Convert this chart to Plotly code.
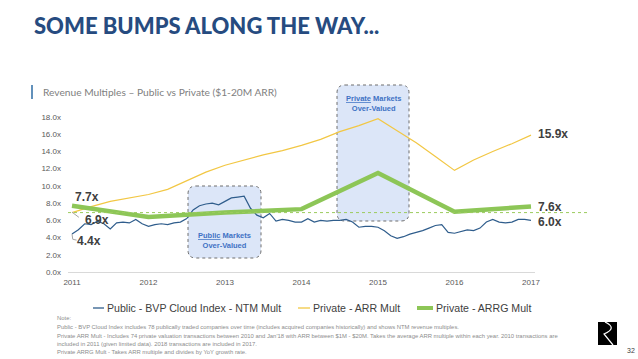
import plotly.graph_objects as go

# ---------------- data ----------------
years = [2011, 2012, 2013, 2014, 2015, 2016, 2017]
year_labels = ["2011", "2012", "2013", "2014", "2015", "2016", "2017"]

# Public - BVP Cloud Index - NTM Mult (monthly, Jan 2011 .. Jan 2017)
public_months = [i for i in range(73)]
public_vals = [4.4, 4.9, 5.6, 5.5, 5.9, 5.6, 5.0, 5.7, 5.8, 5.7, 6.1, 5.6,
               5.3, 5.5, 5.6, 5.5, 5.7, 5.8, 6.2, 7.2, 7.7, 7.9, 8.0, 7.8,
               8.2, 8.6, 8.7, 8.8, 7.4, 6.6, 6.3, 6.8, 5.9, 6.1, 6.0, 5.8,
               5.8, 6.2, 5.8, 6.0, 5.9, 6.0, 6.0, 6.1, 5.8, 5.2, 5.3, 5.3,
               5.2, 4.8, 4.2, 3.9, 4.1, 4.4, 4.6, 4.8, 5.1, 5.4, 5.5, 4.6,
               4.5, 4.7, 4.9, 4.8, 5.1, 5.8, 6.1, 5.8, 5.7, 5.8, 6.1, 6.1,
               6.0]

# Private - ARR Mult (quarterly)
arr_quarters = [i for i in range(25)]
arr_vals = [6.9, 7.6, 8.2, 8.6, 9.0, 9.6, 10.6, 11.6, 12.4, 13.0, 13.6, 14.1,
            14.7, 15.4, 16.3, 17.0, 17.8, 16.4, 15.0, 13.4, 11.8, 13.0, 14.0,
            14.9, 15.9]

# Private - ARRG Mult (annual)
arrg_vals = [7.7, 6.4, 6.9, 7.3, 11.5, 7.0, 7.6]

ref_level = 6.9  # dotted reference line

names = ["Public - BVP Cloud Index - NTM Mult", "Private - ARR Mult", "Private - ARRG Mult"]
colors = ["#2F5D8C", "#F2C744", "#8DC657"]

notes = [
    "Note:",
    "Public - BVP Cloud Index includes 78 publically traded companies over time (includes acquired companies historically) and shows NTM revenue multiples.",
    "Private ARR Mult - Includes 74 private valuation transactions between 2010 and Jan'18 with ARR between $1M - $20M. Takes the average ARR multiple within each year. 2010 transactions are",
    "included in 2011 (given limited data). 2018 transactions are included in 2017.",
    "Private ARRG Mult - Takes ARR multiple and divides by YoY growth rate.",
]

# ---------------- layout geometry (pixels) ----------------
W, H = 638, 359
L, R, T, B = 68, 103, 117, 87
PW, PH = W - L - R, H - T - B


def px(x):
    return (x - L) / PW


def py(y):
    return 1 - (y - T) / PH


pub_x = [years[0] + m / 12 for m in public_months]
arr_x = [years[0] + q / 4 for q in arr_quarters]

fig = go.Figure()
fig.add_trace(go.Scatter(x=pub_x, y=public_vals, mode="lines", name=names[0],
                         line=dict(color=colors[0], width=1.2), showlegend=False))
fig.add_trace(go.Scatter(x=arr_x, y=arr_vals, mode="lines", name=names[1],
                         line=dict(color=colors[1], width=1.2), showlegend=False))
fig.add_trace(go.Scatter(x=years, y=arrg_vals, mode="lines", name=names[2],
                         line=dict(color=colors[2], width=4.5), showlegend=False))

shapes = []
annotations = []


def rrect(x0, y0, x1, y1, r=8):
    # pixel coords -> paper path with rounded corners
    rx, ry = r / PW, r / PH
    X0, X1 = px(x0), px(x1)
    Y0, Y1 = py(y1), py(y0)  # Y0 bottom, Y1 top
    return (f"M {X0+rx},{Y1} L {X1-rx},{Y1} Q {X1},{Y1} {X1},{Y1-ry} "
            f"L {X1},{Y0+ry} Q {X1},{Y0} {X1-rx},{Y0} L {X0+rx},{Y0} "
            f"Q {X0},{Y0} {X0},{Y0+ry} L {X0},{Y1-ry} Q {X0},{Y1} {X0+rx},{Y1} Z")


box_style = dict(type="path", xref="paper", yref="paper", layer="below",
                 fillcolor="#DCE6F8", line=dict(color="#6F6F6F", width=1, dash="dot"))
shapes.append(dict(path=rrect(188, 186, 261, 258), **box_style))
shapes.append(dict(path=rrect(337, 85, 409, 221), **box_style))

# dotted reference line
shapes.append(dict(type="line", xref="paper", yref="paper", x0=0, x1=px(588),
                   y0=ref_level / 18, y1=ref_level / 18,
                   line=dict(color="#9CCB5E", width=1, dash="dot")))

# small connectors to left labels
shapes.append(dict(type="line", xref="x", yref="y", x0=years[0], y0=arr_vals[0] + 0.05,
                   x1=years[0] + 0.09, y1=arr_vals[0] - 0.55,
                   line=dict(color="#A6A6A6", width=1)))
shapes.append(dict(type="path", xref="x", yref="y",
                   path=f"M {years[0]},{public_vals[0]} L {years[0]+0.01},{public_vals[0]-0.6} L {years[0]+0.06},{public_vals[0]-0.7}",
                   line=dict(color="#A6A6A6", width=1)))

# box texts
box_font = dict(family="Liberation Sans, Arial", size=7.5, color="#3F72C4")
annotations.append(dict(xref="paper", yref="paper", x=px(224.5), y=py(240), showarrow=False,
                        text="<b><u>Public</u> Markets<br>Over-Valued</b>", font=box_font,
                        xanchor="center", yanchor="middle", align="center"))
annotations.append(dict(xref="paper", yref="paper", x=px(373), y=py(103), showarrow=False,
                        text="<b><u>Private</u> Markets<br>Over-Valued</b>", font=box_font,
                        xanchor="center", yanchor="middle", align="center"))

# value labels
lab_font = dict(family="Liberation Sans, Arial", size=12, color="#404040")


def vlabel(x, y, xs, ys):
    annotations.append(dict(x=x, y=y, xref="x", yref="y", text=f"<b>{y:.1f}x</b>",
                            showarrow=False, xanchor="left", yanchor="middle",
                            xshift=xs, yshift=ys, font=lab_font))


vlabel(years[0], arrg_vals[0], 1, 9)
vlabel(years[0], arr_vals[0], 11, -7)
vlabel(years[0], public_vals[0], 3, -7)
vlabel(years[-1], arr_vals[-1], 5, 1)
vlabel(years[-1], arrg_vals[-1], 5, 0)
vlabel(years[-1], public_vals[-1], 5, -2)

# title & subtitle
annotations.append(dict(xref="paper", yref="paper", x=px(32), y=py(25.5), showarrow=False,
                        xanchor="left", yanchor="middle",
                        text="SOME BUMPS ALONG THE WAY...",
                        font=dict(family="Lato", size=22, weight=900, color="#264B80")))
shapes.append(dict(type="line", xref="paper", yref="paper", x0=px(32), x1=px(32),
                   y0=py(99), y1=py(85), line=dict(color="#2E6DA4", width=1.5)))
annotations.append(dict(xref="paper", yref="paper", x=px(41), y=py(92), showarrow=False,
                        xanchor="left", yanchor="middle",
                        text="Revenue Multiples \u2013 Public vs Private ($1-20M ARR)",
                        font=dict(family="Lato", size=10.2, color="#808080")))

# custom legend
leg_y = py(308)
leg_items = [(93, 104, 105, 1.3), (298, 310, 311, 1.3), (417, 433, 434, 4)]
for (lx0, lx1, tx, lw), nm, c in zip(leg_items, names, colors):
    shapes.append(dict(type="line", xref="paper", yref="paper", x0=px(lx0), x1=px(lx1),
                       y0=leg_y, y1=leg_y, line=dict(color=c, width=lw)))
    annotations.append(dict(xref="paper", yref="paper", x=px(tx), y=leg_y, showarrow=False,
                            xanchor="left", yanchor="middle", text=nm,
                            font=dict(family="Liberation Sans, Arial", size=10.6, color="#404040")))

# notes
for txt, yy in zip(notes, [318, 327, 336, 344, 352]):
    annotations.append(dict(xref="paper", yref="paper", x=px(55), y=py(yy), showarrow=False,
                            xanchor="left", yanchor="middle", text=txt,
                            font=dict(family="Liberation Sans, Arial", size=5.9, color="#8C8C8C")))

# logo + page number
shapes.append(dict(type="rect", xref="paper", yref="paper", x0=px(598), x1=px(617),
                   y0=py(345), y1=py(322), fillcolor="black", line=dict(width=0)))
shapes.append(dict(type="path", xref="paper", yref="paper",
                   path=f"M {px(605)},{py(322)} Q {px(618)},{py(328)} {px(604)},{py(334)} L {px(613)},{py(345)}",
                   line=dict(color="white", width=1.2)))
annotations.append(dict(xref="paper", yref="paper", x=px(631), y=py(350), showarrow=False,
                        xanchor="center", yanchor="middle", text="32",
                        font=dict(family="Liberation Sans, Arial", size=7, color="#404040")))

tick_font = dict(family="Liberation Sans, Arial", size=8, color="#595959")
fig.update_layout(
    width=W, height=H, autosize=False,
    margin=dict(l=L, r=R, t=T, b=B, pad=0),
    paper_bgcolor="white", plot_bgcolor="white",
    shapes=shapes, annotations=annotations, showlegend=False,
    xaxis=dict(range=[years[0] - 4 / 76.5, years[-1] + 4 / 76.5], tickvals=years,
               ticktext=year_labels, showgrid=False, zeroline=False, showline=False,
               tickfont=tick_font, ticks="", ticklabelstandoff=4),
    yaxis=dict(range=[0, 18], tickvals=[0, 2, 4, 6, 8, 10, 12, 14, 16, 18],
               ticktext=[f"{v:.1f}x" for v in [0, 2, 4, 6, 8, 10, 12, 14, 16, 18]],
               showgrid=False, zeroline=True, zerolinecolor="#D9D9D9", zerolinewidth=1,
               showline=False, tickfont=tick_font, ticks="", ticklabelstandoff=6),
)

fig.write_html("out.html", config={"displayModeBar": False},
               post_script="document.body.style.margin='0';document.body.style.overflow='hidden';")
